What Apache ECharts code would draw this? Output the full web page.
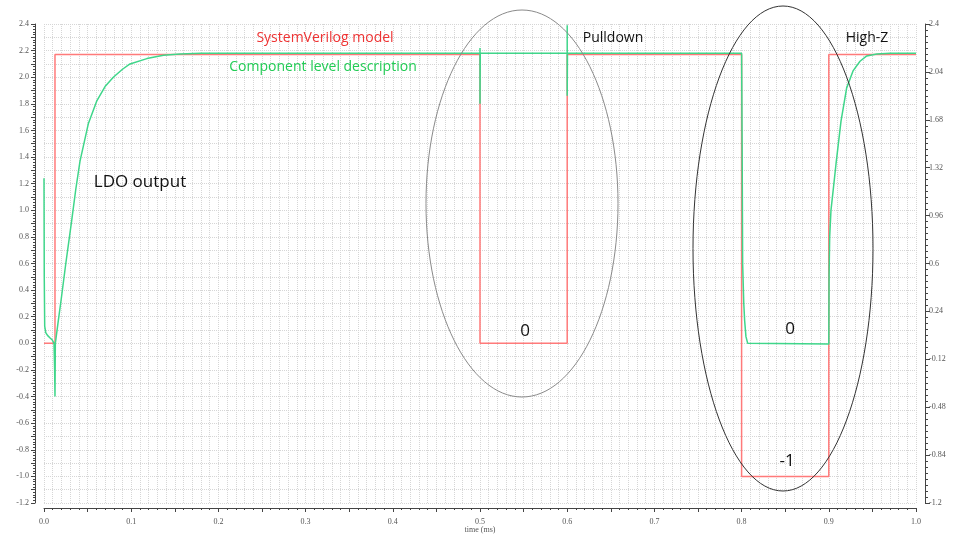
<!DOCTYPE html>
<html><head><meta charset="utf-8">
<script src="https://cdn.jsdelivr.net/npm/echarts@6/dist/echarts.min.js"></script>
<style>html,body{margin:0;padding:0;background:#fff}#c{width:953px;height:535px}</style>
</head><body><div id="c"></div>
<script>
// SystemVerilog model (red)
const redTime  = [0, 0.0126, 0.0126, 0.5, 0.5, 0.6, 0.6, 0.8, 0.8, 0.9, 0.9, 1.0];
const redValue = [0, 0, 2.17, 2.17, 0, 0, 2.17, 2.17, -1, -1, 2.17, 2.17];
// Component level description (green)
const greenTime  = [0, 0.0003, 0.0008, 0.002, 0.004, 0.007, 0.0095, 0.0115, 0.0122, 0.0126, 0.013, 0.016, 0.0195, 0.025, 0.0317, 0.0365, 0.0413, 0.0508, 0.0604, 0.07, 0.0795, 0.09, 0.0986, 0.118, 0.137, 0.156, 0.18, 0.5, 0.5, 0.5, 0.5003, 0.6, 0.6, 0.6, 0.6003, 0.8, 0.8006, 0.8012, 0.8025, 0.8035, 0.805, 0.807, 0.8085, 0.9, 0.9003, 0.901, 0.9025, 0.905, 0.9083, 0.914, 0.9205, 0.928, 0.9358, 0.9435, 0.955, 0.97, 1.0];
const greenValue = [1.24, 0.5, 0.13, 0.08, 0.06, 0.04, 0.025, 0.0, -0.2, -0.4, 0.0, 0.15, 0.32, 0.6, 0.92, 1.16, 1.37, 1.65, 1.82, 1.93, 2.0, 2.06, 2.10, 2.14, 2.165, 2.175, 2.18, 2.18, 2.22, 1.8, 2.18, 2.18, 2.39, 1.86, 2.18, 2.18, 1.5, 0.6, 0.3, 0.17, 0.05, 0.0, -0.005, -0.005, 0.5, 0.8, 1.0, 1.15, 1.35, 1.67, 1.92, 2.05, 2.12, 2.16, 2.175, 2.18, 2.18];
const seriesNames = ['SystemVerilog model', 'Component level description'];
const xAxisName = 'time (ms)';

const redData = redTime.map((t, i) => [t, redValue[i]]);
const greenData = greenTime.map((t, i) => [t, greenValue[i]]);

const chart = echarts.init(document.getElementById('c'), null, {renderer: 'canvas'});
const grid = {left: 44, right: 37, top: 24, bottom: 32, outerBoundsMode: 'none', containLabel: false};
const axisCol = '#444';
const labelFont = {fontSize: 8, color: '#555', fontFamily: 'Liberation Serif'};
const fmt = v => String(parseFloat(v.toFixed(2)));
const gridLine = {show: true, lineStyle: {color: '#d6d6d6', type: 'dotted', width: 1}};

chart.setOption({
  animation: false,
  backgroundColor: '#fff',
  grid: grid,
  xAxis: {
    type: 'value', min: 0, max: 1, interval: 0.05, offset: 5,
    name: xAxisName, nameLocation: 'middle', nameGap: 18, nameMoveOverlap: false,
    nameTextStyle: {fontSize: 8, color: '#555', fontFamily: 'Liberation Serif'},
    axisLine: {show: true, onZero: false, lineStyle: {color: axisCol}},
    axisTick: {show: true, length: 4, lineStyle: {color: axisCol}},
    minorTick: {show: true, splitNumber: 5, length: 2, lineStyle: {color: axisCol}},
    axisLabel: Object.assign({margin: 10, formatter: v => (Math.round(v * 100) % 10 === 0 ? v.toFixed(1) : '')}, labelFont),
    splitLine: gridLine,
    minorSplitLine: gridLine
  },
  yAxis: [{
    type: 'value', min: -1.2, max: 2.4, interval: 0.1, offset: 9, position: 'left',
    axisLine: {show: true, onZero: false, lineStyle: {color: axisCol}},
    axisTick: {show: true, length: 4, lineStyle: {color: axisCol}},
    minorTick: {show: true, splitNumber: 5, length: 2, lineStyle: {color: axisCol}},
    axisLabel: Object.assign({margin: 6, formatter: v => (Math.round(v * 10) % 2 === 0 ? v.toFixed(1) : '')}, labelFont),
    splitLine: gridLine
  }, {
    type: 'value', min: -1.2, max: 2.4, interval: 0.36, offset: 9, position: 'right',
    axisLine: {show: true, onZero: false, lineStyle: {color: axisCol}},
    axisTick: {show: true, length: 5, lineStyle: {color: axisCol}},
    minorTick: {show: true, splitNumber: 8, length: 3, lineStyle: {color: axisCol}},
    axisLabel: Object.assign({margin: 4, formatter: fmt}, labelFont),
    splitLine: {show: false}
  }],
  series: [{
    name: seriesNames[0], type: 'line', data: redData, showSymbol: false,
    lineStyle: {color: '#ff7a7a', width: 1.5}, itemStyle: {color: '#ff7a7a'}, z: 2
  }, {
    name: seriesNames[1], type: 'line', data: greenData, showSymbol: false,
    lineStyle: {color: '#3fd68a', width: 1.5}, itemStyle: {color: '#3fd68a'}, z: 3
  }],
  graphic: [
    {type: 'ellipse', shape: {cx: 522, cy: 203.5, rx: 96, ry: 193.5}, style: {fill: 'none', stroke: '#8a8a8a', lineWidth: 1}, z: 10},
    {type: 'ellipse', shape: {cx: 783, cy: 248.5, rx: 90, ry: 242.5}, style: {fill: 'none', stroke: '#333', lineWidth: 1}, z: 10},
    {type: 'text', x: 325, y: 38, style: {text: seriesNames[0], fill: '#ee3333', font: '14px "Open Sans"', textAlign: 'center', textVerticalAlign: 'middle'}, z: 11},
    {type: 'text', x: 323, y: 67, style: {text: seriesNames[1], fill: '#22cc55', font: '14px "Open Sans"', textAlign: 'center', textVerticalAlign: 'middle'}, z: 11},
    {type: 'text', x: 140, y: 182, style: {text: 'LDO output', fill: '#111', font: '17px "Open Sans"', textAlign: 'center', textVerticalAlign: 'middle'}, z: 11},
    {type: 'text', x: 613, y: 38, style: {text: 'Pulldown', fill: '#111', font: '14px "Open Sans"', textAlign: 'center', textVerticalAlign: 'middle'}, z: 11},
    {type: 'text', x: 867, y: 38, style: {text: 'High-Z', fill: '#111', font: '14px "Open Sans"', textAlign: 'center', textVerticalAlign: 'middle'}, z: 11},
    {type: 'text', x: 525, y: 331, style: {text: '0', fill: '#111', font: '17px "Open Sans"', textAlign: 'center', textVerticalAlign: 'middle'}, z: 11},
    {type: 'text', x: 790, y: 329, style: {text: '0', fill: '#111', font: '17px "Open Sans"', textAlign: 'center', textVerticalAlign: 'middle'}, z: 11},
    {type: 'text', x: 787, y: 461, style: {text: '-1', fill: '#111', font: '17px "Open Sans"', textAlign: 'center', textVerticalAlign: 'middle'}, z: 11}
  ]
});
</script>
</body></html>
